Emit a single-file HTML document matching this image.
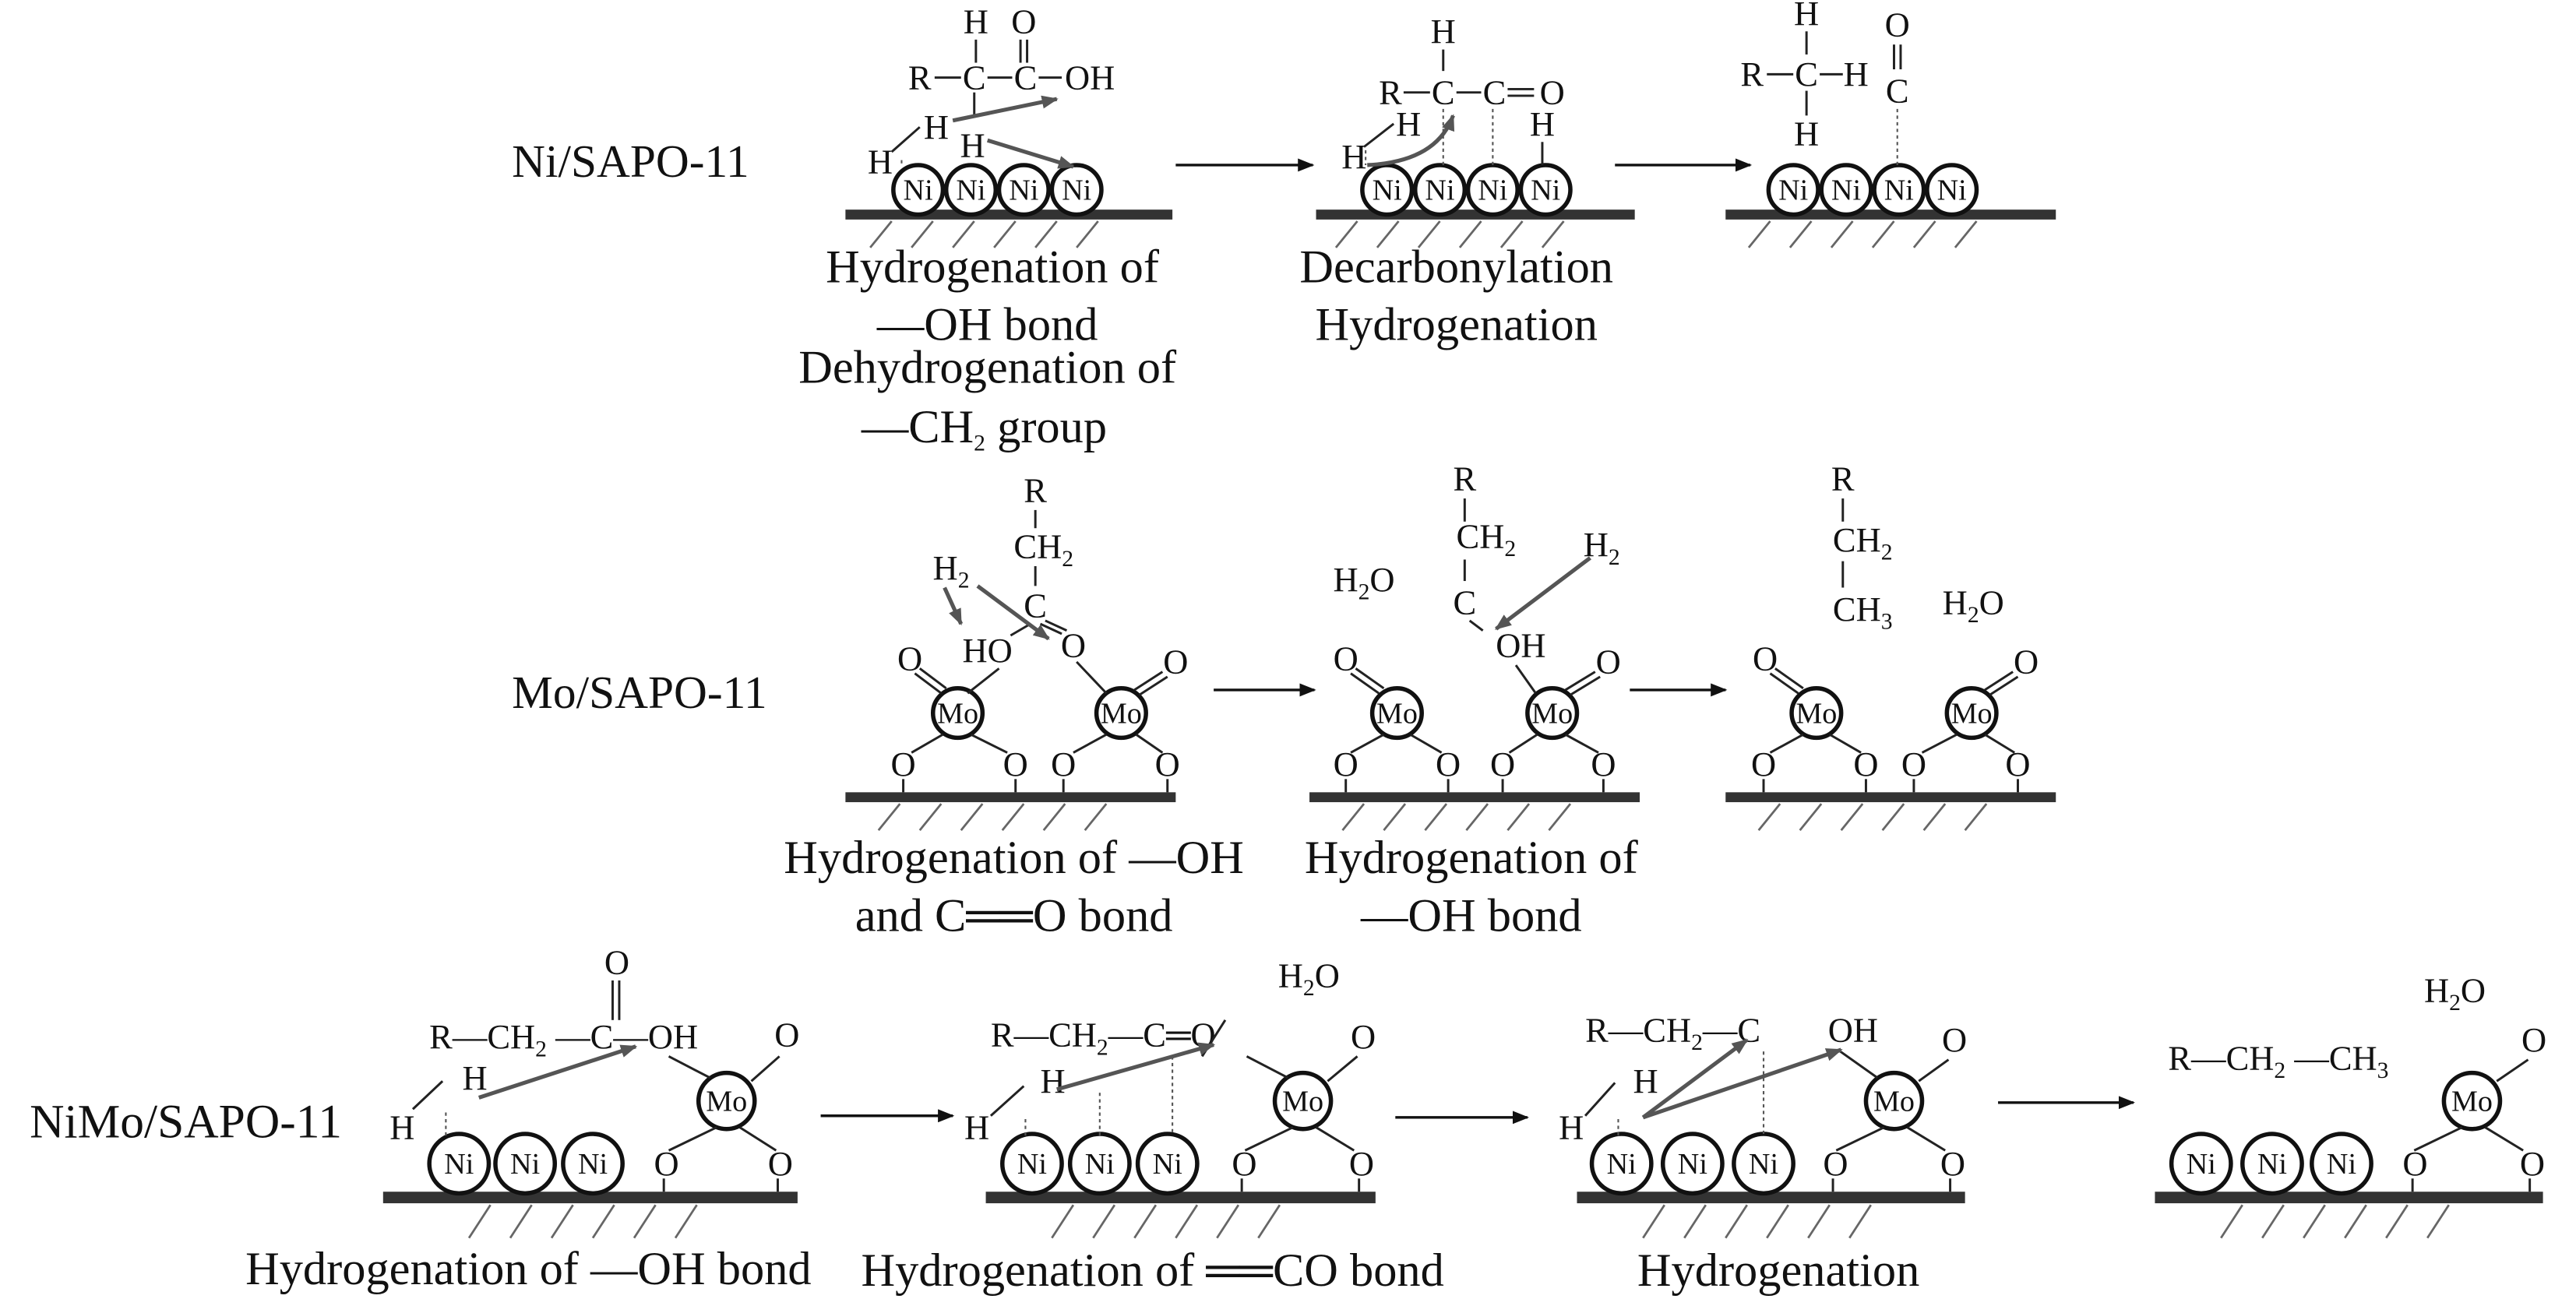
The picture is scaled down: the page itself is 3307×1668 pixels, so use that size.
<!DOCTYPE html>
<html><head><meta charset="utf-8"><style>
html,body{margin:0;padding:0;background:#fff}
svg{display:block}
text{font-family:"Liberation Serif",serif;fill:#111}
.cap{font-size:28.5px}
.at{font-size:21px}
.ni{font-size:18px}
.sub{font-size:14px}
.bond{stroke:#222;stroke-width:1.4;fill:none}
.dash{stroke:#555;stroke-width:1;stroke-dasharray:2 2;fill:none}
.hat{stroke:#666;stroke-width:1.3}
.circ{stroke:#111;stroke-width:2.6;fill:#fff}
.arr{stroke:#111;stroke-width:1.6}
.garr{stroke:#555;stroke-width:2.4}
</style></head><body>
<svg width="3307" height="1668" viewBox="0 0 1560 787" preserveAspectRatio="none" xmlns="http://www.w3.org/2000/svg">
<defs>
<marker id="ah" markerWidth="10" markerHeight="8" refX="9" refY="4" orient="auto" markerUnits="userSpaceOnUse"><path d="M0,0L10,4L0,8z" fill="#111"/></marker>
<marker id="gh" markerWidth="10" markerHeight="8" refX="9" refY="4" orient="auto" markerUnits="userSpaceOnUse"><path d="M0,0L10,4L0,8z" fill="#555"/></marker>
</defs>

<!-- ROW 1 -->
<text x="310" y="107" style="font-size:28px">Ni/SAPO-11</text>
<rect x="512" y="127" width="198" height="6" fill="#333"/>
<g class="hat"><line x1="540" y1="134" x2="527" y2="150"/><line x1="565" y1="134" x2="552" y2="150"/><line x1="590" y1="134" x2="577" y2="150"/><line x1="615" y1="134" x2="602" y2="150"/><line x1="640" y1="134" x2="627" y2="150"/><line x1="665" y1="134" x2="652" y2="150"/></g>
<g class="circ"><circle cx="556" cy="115" r="15"/><circle cx="588" cy="115" r="15"/><circle cx="620" cy="115" r="15"/><circle cx="652" cy="115" r="15"/></g>
<g class="ni" text-anchor="middle"><text x="556" y="121">Ni</text><text x="588" y="121">Ni</text><text x="620" y="121">Ni</text><text x="652" y="121">Ni</text></g>
<g class="at" text-anchor="middle"><text x="591" y="20">H</text><text x="620" y="20">O</text><text x="557" y="54">R</text><text x="590" y="54">C</text><text x="621" y="54">C</text><text x="660" y="54">OH</text><text x="567" y="84">H</text><text x="589" y="95">H</text><text x="533" y="105">H</text></g>
<g class="bond"><line x1="591" y1="24" x2="591" y2="38"/><line x1="618" y1="24" x2="618" y2="38"/><line x1="622" y1="24" x2="622" y2="38"/><line x1="566" y1="47" x2="582" y2="47"/><line x1="598" y1="47" x2="613" y2="47"/><line x1="629" y1="47" x2="643" y2="47"/><line x1="590" y1="56" x2="590" y2="70"/><line x1="540" y1="92" x2="557" y2="77"/></g>
<line class="dash" x1="546" y1="97" x2="546" y2="100"/>
<line class="garr" x1="577" y1="73" x2="640" y2="60" marker-end="url(#gh)"/>
<line class="garr" x1="598" y1="85" x2="650" y2="101" marker-end="url(#gh)"/>
<g class="cap" text-anchor="middle"><text x="601" y="171">Hydrogenation of</text><text x="598" y="206">—OH bond</text><text x="598" y="232">Dehydrogenation of</text><text x="596" y="268">—CH<tspan class="sub" dy="5">2</tspan><tspan dy="-5"> group</tspan></text></g>
<line class="arr" x1="712" y1="100" x2="795" y2="100" marker-end="url(#ah)"/>
<rect x="797" y="127" width="193" height="6" fill="#333"/>
<g class="hat"><line x1="822" y1="134" x2="809" y2="150"/><line x1="847" y1="134" x2="834" y2="150"/><line x1="872" y1="134" x2="859" y2="150"/><line x1="897" y1="134" x2="884" y2="150"/><line x1="922" y1="134" x2="909" y2="150"/><line x1="947" y1="134" x2="934" y2="150"/></g>
<g class="circ"><circle cx="840" cy="115" r="15"/><circle cx="872" cy="115" r="15"/><circle cx="904" cy="115" r="15"/><circle cx="936" cy="115" r="15"/></g>
<g class="ni" text-anchor="middle"><text x="840" y="121">Ni</text><text x="872" y="121">Ni</text><text x="904" y="121">Ni</text><text x="936" y="121">Ni</text></g>
<g class="at" text-anchor="middle"><text x="874" y="26">H</text><text x="842" y="63">R</text><text x="874" y="63">C</text><text x="905" y="63">C</text><text x="940" y="63">O</text><text x="853" y="82">H</text><text x="820" y="102">H</text><text x="934" y="82">H</text></g>
<g class="bond"><line x1="874" y1="30" x2="874" y2="43"/><line x1="850" y1="56" x2="866" y2="56"/><line x1="882" y1="56" x2="897" y2="56"/><line x1="913" y1="54" x2="929" y2="54"/><line x1="913" y1="58" x2="929" y2="58"/><line x1="826" y1="89" x2="844" y2="75"/><line x1="934" y1="86" x2="934" y2="100"/></g>
<g class="dash"><line x1="874" y1="66" x2="874" y2="100"/><line x1="904" y1="66" x2="904" y2="100"/><line x1="827" y1="91" x2="827" y2="100"/></g>
<path class="garr" d="M828,100 Q870,98 880,70" fill="none" marker-end="url(#gh)"/>
<g class="cap" text-anchor="middle"><text x="882" y="171">Decarbonylation</text><text x="882" y="206">Hydrogenation</text></g>
<line class="arr" x1="978" y1="100" x2="1060" y2="100" marker-end="url(#ah)"/>
<rect x="1045" y="127" width="200" height="6" fill="#333"/>
<g class="hat"><line x1="1072" y1="134" x2="1059" y2="150"/><line x1="1097" y1="134" x2="1084" y2="150"/><line x1="1122" y1="134" x2="1109" y2="150"/><line x1="1147" y1="134" x2="1134" y2="150"/><line x1="1172" y1="134" x2="1159" y2="150"/><line x1="1197" y1="134" x2="1184" y2="150"/></g>
<g class="circ"><circle cx="1086" cy="115" r="15"/><circle cx="1118" cy="115" r="15"/><circle cx="1150" cy="115" r="15"/><circle cx="1182" cy="115" r="15"/></g>
<g class="ni" text-anchor="middle"><text x="1086" y="121">Ni</text><text x="1118" y="121">Ni</text><text x="1150" y="121">Ni</text><text x="1182" y="121">Ni</text></g>
<g class="at" text-anchor="middle"><text x="1094" y="15">H</text><text x="1061" y="52">R</text><text x="1094" y="52">C</text><text x="1124" y="52">H</text><text x="1094" y="88">H</text><text x="1149" y="22">O</text><text x="1149" y="62">C</text></g>
<g class="bond"><line x1="1094" y1="19" x2="1094" y2="33"/><line x1="1070" y1="45" x2="1086" y2="45"/><line x1="1102" y1="45" x2="1116" y2="45"/><line x1="1094" y1="55" x2="1094" y2="70"/><line x1="1147" y1="27" x2="1147" y2="42"/><line x1="1151" y1="27" x2="1151" y2="42"/></g>
<line class="dash" x1="1149" y1="66" x2="1149" y2="100"/>

<!-- ROW 2 -->
<text x="310" y="429" style="font-size:28px">Mo/SAPO-11</text>
<rect x="512" y="480" width="200" height="6" fill="#333"/>
<g class="hat"><line x1="545" y1="487" x2="532" y2="503"/><line x1="570" y1="487" x2="557" y2="503"/><line x1="595" y1="487" x2="582" y2="503"/><line x1="620" y1="487" x2="607" y2="503"/><line x1="645" y1="487" x2="632" y2="503"/><line x1="670" y1="487" x2="657" y2="503"/></g>
<g class="circ"><circle cx="580" cy="432" r="15"/><circle cx="679" cy="432" r="15"/></g>
<g class="ni" text-anchor="middle"><text x="580" y="438">Mo</text><text x="679" y="438">Mo</text></g>
<g class="at" text-anchor="middle"><text x="551" y="406">O</text><text x="712" y="408">O</text><text x="547" y="470">O</text><text x="615" y="470">O</text><text x="644" y="470">O</text><text x="707" y="470">O</text><text x="627" y="304">R</text><text x="632" y="338">CH<tspan class="sub" dy="5">2</tspan></text><text x="627" y="374">C</text><text x="650" y="398">O</text><text x="598" y="401">HO</text><text x="576" y="351">H<tspan class="sub" dy="5">2</tspan></text></g>
<g class="bond"><line x1="554" y1="408" x2="570" y2="420"/><line x1="557" y1="405" x2="573" y2="417"/><line x1="707" y1="410" x2="690" y2="421"/><line x1="704" y1="407" x2="687" y2="418"/><line x1="571" y1="445" x2="552" y2="456"/><line x1="588" y1="445" x2="610" y2="456"/><line x1="670" y1="445" x2="650" y2="456"/><line x1="688" y1="445" x2="704" y2="456"/><line x1="547" y1="472" x2="547" y2="480"/><line x1="615" y1="472" x2="615" y2="480"/><line x1="644" y1="472" x2="644" y2="480"/><line x1="707" y1="472" x2="707" y2="480"/><line x1="627" y1="309" x2="627" y2="320"/><line x1="627" y1="343" x2="627" y2="355"/><line x1="624" y1="378" x2="612" y2="385"/><line x1="630" y1="378" x2="643" y2="384"/><line x1="633" y1="376" x2="646" y2="382"/><line x1="605" y1="405" x2="586" y2="420"/><line x1="652" y1="401" x2="670" y2="420"/></g>
<line class="garr" x1="572" y1="356" x2="582" y2="378" marker-end="url(#gh)"/>
<line class="garr" x1="592" y1="355" x2="635" y2="387" marker-end="url(#gh)"/>
<g class="cap" text-anchor="middle"><text x="614" y="529">Hydrogenation of —OH</text><text x="614" y="564">and C══O bond</text></g>
<line class="arr" x1="735" y1="418" x2="796" y2="418" marker-end="url(#ah)"/>
<rect x="793" y="480" width="200" height="6" fill="#333"/>
<g class="hat"><line x1="826" y1="487" x2="813" y2="503"/><line x1="851" y1="487" x2="838" y2="503"/><line x1="876" y1="487" x2="863" y2="503"/><line x1="901" y1="487" x2="888" y2="503"/><line x1="926" y1="487" x2="913" y2="503"/><line x1="951" y1="487" x2="938" y2="503"/></g>
<g class="circ"><circle cx="846" cy="432" r="15"/><circle cx="940" cy="432" r="15"/></g>
<g class="ni" text-anchor="middle"><text x="846" y="438">Mo</text><text x="940" y="438">Mo</text></g>
<g class="at" text-anchor="middle"><text x="826" y="358">H<tspan class="sub" dy="5">2</tspan><tspan dy="-5">O</tspan></text><text x="815" y="406">O</text><text x="974" y="408">O</text><text x="815" y="470">O</text><text x="877" y="470">O</text><text x="910" y="470">O</text><text x="971" y="470">O</text><text x="887" y="297">R</text><text x="900" y="332">CH<tspan class="sub" dy="5">2</tspan></text><text x="887" y="372">C</text><text x="921" y="398">OH</text><text x="970" y="337">H<tspan class="sub" dy="5">2</tspan></text></g>
<g class="bond"><line x1="818" y1="408" x2="835" y2="420"/><line x1="821" y1="405" x2="838" y2="417"/><line x1="969" y1="410" x2="951" y2="421"/><line x1="966" y1="407" x2="948" y2="418"/><line x1="838" y1="445" x2="818" y2="456"/><line x1="854" y1="445" x2="873" y2="456"/><line x1="931" y1="445" x2="914" y2="456"/><line x1="948" y1="445" x2="968" y2="456"/><line x1="815" y1="472" x2="815" y2="480"/><line x1="877" y1="472" x2="877" y2="480"/><line x1="910" y1="472" x2="910" y2="480"/><line x1="971" y1="472" x2="971" y2="480"/><line x1="887" y1="302" x2="887" y2="316"/><line x1="887" y1="339" x2="887" y2="352"/><line x1="890" y1="376" x2="898" y2="382"/><line x1="918" y1="403" x2="930" y2="420"/></g>
<line class="garr" x1="963" y1="338" x2="906" y2="381" marker-end="url(#gh)"/>
<g class="cap" text-anchor="middle"><text x="891" y="529">Hydrogenation of</text><text x="891" y="564">—OH bond</text></g>
<line class="arr" x1="987" y1="418" x2="1045" y2="418" marker-end="url(#ah)"/>
<rect x="1045" y="480" width="200" height="6" fill="#333"/>
<g class="hat"><line x1="1078" y1="487" x2="1065" y2="503"/><line x1="1103" y1="487" x2="1090" y2="503"/><line x1="1128" y1="487" x2="1115" y2="503"/><line x1="1153" y1="487" x2="1140" y2="503"/><line x1="1178" y1="487" x2="1165" y2="503"/><line x1="1203" y1="487" x2="1190" y2="503"/></g>
<g class="circ"><circle cx="1100" cy="432" r="15"/><circle cx="1194" cy="432" r="15"/></g>
<g class="ni" text-anchor="middle"><text x="1100" y="438">Mo</text><text x="1194" y="438">Mo</text></g>
<g class="at" text-anchor="middle"><text x="1069" y="406">O</text><text x="1227" y="408">O</text><text x="1068" y="470">O</text><text x="1130" y="470">O</text><text x="1159" y="470">O</text><text x="1222" y="470">O</text><text x="1116" y="297">R</text><text x="1128" y="334">CH<tspan class="sub" dy="5">2</tspan></text><text x="1128" y="376">CH<tspan class="sub" dy="5">3</tspan></text><text x="1195" y="372">H<tspan class="sub" dy="5">2</tspan><tspan dy="-5">O</tspan></text></g>
<g class="bond"><line x1="1072" y1="408" x2="1089" y2="420"/><line x1="1075" y1="405" x2="1092" y2="417"/><line x1="1222" y1="410" x2="1205" y2="421"/><line x1="1219" y1="407" x2="1202" y2="418"/><line x1="1092" y1="445" x2="1072" y2="456"/><line x1="1108" y1="445" x2="1127" y2="456"/><line x1="1185" y1="445" x2="1164" y2="456"/><line x1="1202" y1="445" x2="1220" y2="456"/><line x1="1068" y1="472" x2="1068" y2="480"/><line x1="1130" y1="472" x2="1130" y2="480"/><line x1="1159" y1="472" x2="1159" y2="480"/><line x1="1222" y1="472" x2="1222" y2="480"/><line x1="1116" y1="302" x2="1116" y2="316"/><line x1="1116" y1="340" x2="1116" y2="356"/></g>

<!-- ROW 3 -->
<text x="18" y="689" style="font-size:29px">NiMo/SAPO-11</text>
<rect x="232" y="722" width="251" height="7" fill="#333"/>
<g class="hat"><line x1="297" y1="730" x2="284" y2="750"/><line x1="322" y1="730" x2="309" y2="750"/><line x1="347" y1="730" x2="334" y2="750"/><line x1="372" y1="730" x2="359" y2="750"/><line x1="397" y1="730" x2="384" y2="750"/><line x1="422" y1="730" x2="409" y2="750"/></g>
<g class="circ"><circle cx="278" cy="705" r="18"/><circle cx="318" cy="705" r="18"/><circle cx="359" cy="705" r="18"/><circle cx="440" cy="667" r="17"/></g>
<g class="ni" text-anchor="middle"><text x="278" y="711">Ni</text><text x="318" y="711">Ni</text><text x="359" y="711">Ni</text><text x="440" y="673">Mo</text></g>
<g class="at"><text x="260" y="635">R—CH<tspan class="sub" dy="5">2</tspan><tspan dy="-5"> —C—OH</tspan></text><text x="366" y="590">O</text><text x="280" y="660">H</text><text x="236" y="690">H</text><text x="396" y="712">O</text><text x="465" y="712">O</text><text x="469" y="634">O</text></g>
<g class="bond"><line x1="371" y1="594" x2="371" y2="618"/><line x1="375" y1="594" x2="375" y2="618"/><line x1="250" y1="672" x2="268" y2="655"/><line x1="405" y1="640" x2="430" y2="653"/><line x1="472" y1="640" x2="455" y2="655"/><line x1="434" y1="683" x2="405" y2="697"/><line x1="448" y1="683" x2="470" y2="697"/><line x1="402" y1="714" x2="402" y2="722"/><line x1="471" y1="714" x2="471" y2="722"/></g>
<line class="dash" x1="270" y1="674" x2="270" y2="688"/>
<line class="garr" x1="290" y1="665" x2="385" y2="634" marker-end="url(#gh)"/>
<text class="cap" x="320" y="778" text-anchor="middle">Hydrogenation of —OH bond</text>
<line class="arr" x1="497" y1="676" x2="577" y2="676" marker-end="url(#ah)"/>
<rect x="597" y="722" width="236" height="7" fill="#333"/>
<g class="hat"><line x1="650" y1="730" x2="637" y2="750"/><line x1="675" y1="730" x2="662" y2="750"/><line x1="700" y1="730" x2="687" y2="750"/><line x1="725" y1="730" x2="712" y2="750"/><line x1="750" y1="730" x2="737" y2="750"/><line x1="775" y1="730" x2="762" y2="750"/></g>
<g class="circ"><circle cx="625" cy="705" r="18"/><circle cx="666" cy="705" r="18"/><circle cx="707" cy="705" r="18"/><circle cx="789" cy="667" r="17"/></g>
<g class="ni" text-anchor="middle"><text x="625" y="711">Ni</text><text x="666" y="711">Ni</text><text x="707" y="711">Ni</text><text x="789" y="673">Mo</text></g>
<g class="at"><text x="600" y="634">R—CH<tspan class="sub" dy="5">2</tspan><tspan dy="-5">—C═O</tspan></text><text x="774" y="598">H<tspan class="sub" dy="5">2</tspan><tspan dy="-5">O</tspan></text><text x="630" y="662">H</text><text x="584" y="690">H</text><text x="746" y="712">O</text><text x="817" y="712">O</text><text x="818" y="635">O</text></g>
<g class="bond"><line x1="728" y1="640" x2="742" y2="618"/><line x1="755" y1="640" x2="780" y2="653"/><line x1="822" y1="640" x2="804" y2="655"/><line x1="783" y1="683" x2="754" y2="697"/><line x1="797" y1="683" x2="820" y2="697"/><line x1="752" y1="714" x2="752" y2="722"/><line x1="823" y1="714" x2="823" y2="722"/><line x1="600" y1="676" x2="620" y2="658"/></g>
<g class="dash"><line x1="621" y1="678" x2="621" y2="688"/><line x1="666" y1="662" x2="666" y2="688"/><line x1="710" y1="640" x2="710" y2="688"/></g>
<line class="garr" x1="640" y1="660" x2="735" y2="633" marker-end="url(#gh)"/>
<text class="cap" x="698" y="779" text-anchor="middle">Hydrogenation of ══CO bond</text>
<line class="arr" x1="845" y1="677" x2="925" y2="677" marker-end="url(#ah)"/>
<rect x="955" y="722" width="235" height="7" fill="#333"/>
<g class="hat"><line x1="1008" y1="730" x2="995" y2="750"/><line x1="1033" y1="730" x2="1020" y2="750"/><line x1="1058" y1="730" x2="1045" y2="750"/><line x1="1083" y1="730" x2="1070" y2="750"/><line x1="1108" y1="730" x2="1095" y2="750"/><line x1="1133" y1="730" x2="1120" y2="750"/></g>
<g class="circ"><circle cx="982" cy="705" r="18"/><circle cx="1025" cy="705" r="18"/><circle cx="1068" cy="705" r="18"/><circle cx="1147" cy="667" r="17"/></g>
<g class="ni" text-anchor="middle"><text x="982" y="711">Ni</text><text x="1025" y="711">Ni</text><text x="1068" y="711">Ni</text><text x="1147" y="673">Mo</text></g>
<g class="at"><text x="960" y="631">R—CH<tspan class="sub" dy="5">2</tspan><tspan dy="-5">—C</tspan></text><text x="1107" y="631">OH</text><text x="989" y="662">H</text><text x="944" y="690">H</text><text x="1104" y="712">O</text><text x="1175" y="712">O</text><text x="1176" y="637">O</text></g>
<g class="bond"><line x1="1113" y1="636" x2="1137" y2="653"/><line x1="1180" y1="642" x2="1162" y2="655"/><line x1="1141" y1="683" x2="1112" y2="697"/><line x1="1155" y1="683" x2="1178" y2="697"/><line x1="1110" y1="714" x2="1110" y2="722"/><line x1="1181" y1="714" x2="1181" y2="722"/><line x1="960" y1="676" x2="978" y2="656"/></g>
<g class="dash"><line x1="980" y1="678" x2="980" y2="688"/><line x1="1068" y1="637" x2="1068" y2="688"/></g>
<line class="garr" x1="995" y1="677" x2="1058" y2="630" marker-end="url(#gh)"/>
<line class="garr" x1="995" y1="677" x2="1115" y2="636" marker-end="url(#gh)"/>
<text class="cap" x="1077" y="779" text-anchor="middle">Hydrogenation</text>
<line class="arr" x1="1210" y1="668" x2="1292" y2="668" marker-end="url(#ah)"/>
<rect x="1305" y="722" width="235" height="7" fill="#333"/>
<g class="hat"><line x1="1358" y1="730" x2="1345" y2="750"/><line x1="1383" y1="730" x2="1370" y2="750"/><line x1="1408" y1="730" x2="1395" y2="750"/><line x1="1433" y1="730" x2="1420" y2="750"/><line x1="1458" y1="730" x2="1445" y2="750"/><line x1="1483" y1="730" x2="1470" y2="750"/></g>
<g class="circ"><circle cx="1333" cy="705" r="18"/><circle cx="1376" cy="705" r="18"/><circle cx="1418" cy="705" r="18"/><circle cx="1497" cy="667" r="17"/></g>
<g class="ni" text-anchor="middle"><text x="1333" y="711">Ni</text><text x="1376" y="711">Ni</text><text x="1418" y="711">Ni</text><text x="1497" y="673">Mo</text></g>
<g class="at"><text x="1313" y="648">R—CH<tspan class="sub" dy="5">2</tspan><tspan dy="-5"> —CH</tspan><tspan class="sub" dy="5">3</tspan></text><text x="1468" y="607">H<tspan class="sub" dy="5">2</tspan><tspan dy="-5">O</tspan></text><text x="1455" y="712">O</text><text x="1526" y="712">O</text><text x="1527" y="637">O</text></g>
<g class="bond"><line x1="1531" y1="642" x2="1512" y2="655"/><line x1="1491" y1="683" x2="1462" y2="697"/><line x1="1505" y1="683" x2="1528" y2="697"/><line x1="1461" y1="714" x2="1461" y2="722"/><line x1="1532" y1="714" x2="1532" y2="722"/></g>
</svg>
</body></html>
